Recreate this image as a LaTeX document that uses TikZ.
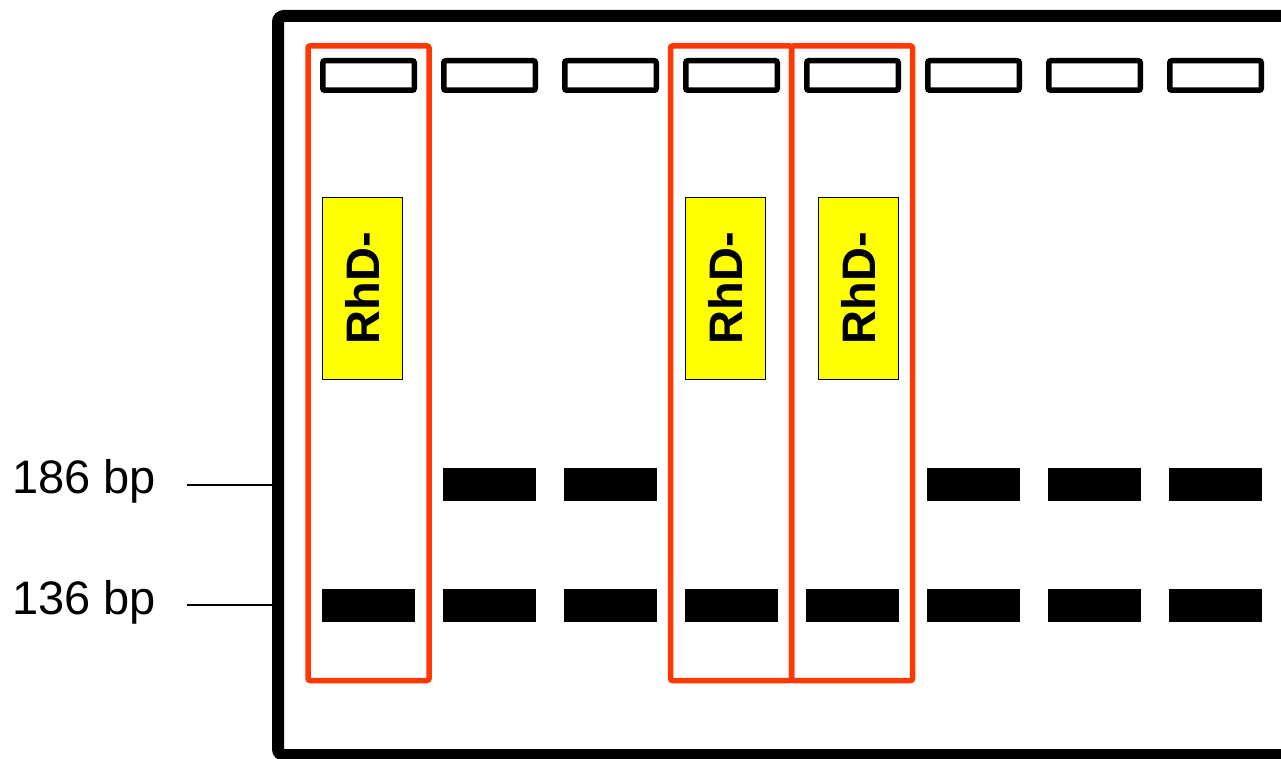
\documentclass[tikz,border=0pt]{standalone}
\usepackage{fontspec}
\setmainfont{Liberation Sans}
\definecolor{lanered}{RGB}{255, 55, 0}
\definecolor{tagyellow}{RGB}{255, 255, 0}
\usetikzlibrary{positioning, calc}

\begin{document}
\begin{tikzpicture}[
  x=1pt, y=-1pt,
  gel/.style={draw, line width=12pt, rounded corners=6pt, minimum width=1012pt, minimum height=739pt, inner sep=0pt},
  well/.style={draw, line width=5.5pt, rounded corners=2pt, minimum width=91.5pt, minimum height=29.5pt, inner sep=0pt},
  band/.style={fill=black, minimum width=93pt, minimum height=33pt, inner sep=0pt},
  lanebox/.style={draw=lanered, line width=5.5pt, rounded corners=2pt, minimum width=121pt, minimum height=634.5pt, inner sep=0pt},
  tag/.style={draw, line width=0.8pt, fill=tagyellow, rotate=90, minimum width=182pt, minimum height=80pt, inner sep=0pt, font=\fontsize{47}{56}\selectfont\bfseries},
  sizelabel/.style={anchor=base west, inner sep=0pt, font=\fontsize{47}{56}\selectfont}
]
  \useasboundingbox (0,0) rectangle (1281,759);

  % gel outline, runs off to the right
  \node[gel] (gel) at (784,385.5) {};

  % wells and bands, lane pitch 121
  \foreach \i in {1,...,8} {
    \node[well] (well\i) at ({368.5+121*(\i-1)},75.5) {};
    \node[band] (low\i) at ({368.5+121*(\i-1)},605.5) {};
  }
  \foreach \i in {2,3,6,7,8} {
    \node[band] (high\i) at ({368.5+121*(\i-1)},484.5) {};
  }

  % RhD negative lanes
  \node[lanebox] (sel1) at (368.5,363.25) {};
  \node[lanebox] (sel4) at (731,363.25) {};
  \node[lanebox] (sel5) at (852,363.25) {};
  \node[tag] (tag1) at (362.5,288) {RhD-};
  \node[tag] (tag4) at (725,288) {RhD-};
  \node[tag] (tag5) at (858,288) {RhD-};

  % size markers
  \node[sizelabel] (bp186) at (12,493) {186 bp};
  \node[sizelabel] (bp136) at (12,614) {136 bp};
  \coordinate (tick186) at (187,485);
  \coordinate (tick136) at (187,605);
  \draw[line width=1.8pt] (tick186) -- (tick186 -| gel.west);
  \draw[line width=1.8pt] (tick136) -- (tick136 -| gel.west);
\end{tikzpicture}
\end{document}
